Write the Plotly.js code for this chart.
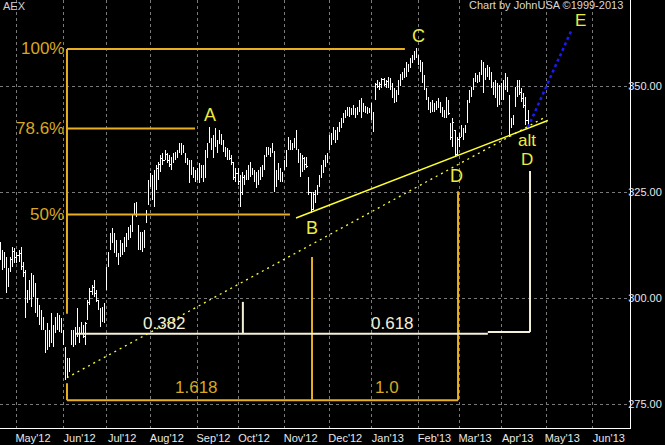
<!DOCTYPE html>
<html><head><meta charset="utf-8">
<script src="https://cdn.plot.ly/plotly-3.0.1.min.js"></script>
<style>html,body{margin:0;padding:0;background:#000;}#chart{width:665px;height:445px;}
#chart .ohlc path{shape-rendering:crispEdges;}</style>
</head><body><div id="chart"></div>
<script>
// ---- data (AEX daily bars) ----
const firstDate = '2012-04-19';
const openP = [
312.5,310.0,308.0,309.5,303.0,306.5,309.0,311.0,
309.5,310.0,310.5,307.5,306.0,300.0,301.5,303.0,301.0,302.0,
298.0,296.5,295.0,294.0,292.0,288.5,292.0,290.0,293.5,291.8,
294.5,293.5,294.5,292.0,288.3,282.0,285.0,289.5,291.5,290.0,
292.0,291.5,292.5,293.0,291.0,295.0,299.0,301.5,302.5,301.0,
299.5,297.5,294.5,297.0,302.0,307.5,311.5,315.0,314.0,311.5,
310.0,310.0,313.0,311.0,314.0,315.0,316.5,316.0,320.0,322.0,
317.0,312.0,315.0,312.0,318.0,322.0,327.5,328.5,325.0,329.5,
330.5,331.5,333.0,332.5,334.0,332.5,331.5,333.0,334.0,333.5,
334.5,336.0,334.5,334.0,332.5,331.5,330.0,330.5,329.0,328.0,
330.0,328.5,330.5,328.5,334.5,337.0,337.5,336.0,337.5,336.5,
336.6,338.5,337.0,335.0,334.0,333.5,333.0,332.0,328.5,329.5,
327.5,325.0,328.5,328.0,329.5,330.5,329.5,330.0,328.0,327.0,
329.5,330.0,331.0,333.5,335.0,334.5,335.0,334.5,327.0,329.0,
329.5,328.0,330.5,332.0,335.0,337.0,336.0,336.5,337.0,335.0,
332.5,330.0,333.0,331.5,328.5,325.0,321.0,324.5,325.0,326.5,
328.5,331.0,332.0,333.5,335.0,338.0,337.5,339.5,337.5,340.0,
341.5,342.0,343.5,344.0,343.5,344.5,344.0,344.5,343.5,344.5,
346.5,344.0,345.0,344.5,344.0,344.5,343.0,347.0,350.5,350.0,
350.5,351.5,350.5,351.0,350.0,349.5,348.0,347.0,348.5,351.0,
352.5,353.0,354.0,353.5,355.0,356.5,357.0,358.0,357.0,355.5,
354.0,351.5,349.5,347.0,345.0,344.5,346.0,344.5,346.0,345.5,
344.0,343.5,343.0,346.5,341.0,338.0,339.5,334.0,337.5,338.0,
340.0,339.0,341.5,346.5,348.5,349.5,351.5,352.5,351.5,353.0,
355.5,351.5,353.5,354.5,352.0,350.0,349.0,350.5,346.0,349.5,
347.5,351.0,352.0,347.5,340.5,341.5,345.5,349.0,350.5,348.5,
347.0,345.5,342.0];
const highP = [
313.3,311.4,310.9,309.7,307.1,309.7,312.1,311.9,
310.9,311.4,312.1,308.6,306.7,302.0,304.3,306.0,305.5,303.6,
300.1,298.4,297.2,295.6,292.5,294.2,292.5,296.5,293.7,295.6,
296.5,296.1,295.4,292.5,288.3,285.9,285.9,292.5,292.5,293.2,
297.7,293.2,294.4,293.7,294.4,299.6,302.4,303.1,304.3,302.0,
299.6,297.7,297.9,298.9,307.4,310.9,315.4,316.6,315.4,313.8,
310.7,313.8,313.0,314.5,315.4,316.8,317.3,319.6,322.5,322.7,
317.3,315.6,315.6,316.1,320.8,327.9,329.6,329.1,330.3,331.4,
332.1,333.8,334.3,335.0,334.3,333.8,333.3,334.3,334.5,335.0,
336.6,336.6,336.2,334.3,333.1,332.6,332.6,330.9,330.3,330.7,
331.9,331.4,331.4,335.0,336.6,340.4,337.8,338.5,340.2,337.3,
339.7,338.5,337.3,335.7,335.5,335.0,333.8,332.1,330.7,330.7,
329.1,329.8,329.1,330.3,331.4,332.1,330.7,330.3,329.8,330.3,
330.9,331.4,333.8,335.7,335.7,335.5,336.6,334.5,330.3,331.9,
330.7,329.8,332.6,335.0,338.0,337.3,336.6,337.8,339.7,335.0,
334.3,333.8,333.3,333.3,328.6,325.1,325.1,325.6,326.7,329.1,
331.4,332.6,333.8,334.3,338.5,339.0,340.4,339.7,340.4,341.6,
342.5,343.7,344.4,345.1,345.1,344.9,345.6,344.9,345.1,346.8,
347.2,346.1,345.4,345.1,344.9,346.1,343.9,350.8,351.5,351.0,
352.0,352.0,351.5,352.2,352.0,350.8,349.6,349.1,351.5,352.9,
353.4,354.3,355.7,355.3,356.7,357.4,358.3,359.0,357.4,356.2,
355.7,352.7,349.6,347.5,346.3,346.8,346.1,346.5,347.2,346.3,
345.1,344.4,347.5,346.8,341.3,342.5,339.7,338.0,339.0,340.9,
340.2,340.9,346.8,349.1,349.8,352.0,353.1,352.7,353.4,356.2,
355.7,354.3,355.0,354.6,353.4,351.0,351.5,350.8,350.3,350.8,
351.5,353.1,352.0,347.9,342.5,343.2,349.8,351.5,351.5,349.6,
348.4,347.5,344.4];
const lowP = [
309.0,306.7,307.1,301.3,302.7,306.2,307.4,308.3,
308.3,308.6,306.7,305.0,295.4,298.9,299.6,297.9,300.3,296.5,
295.6,293.7,292.5,292.5,287.1,287.8,288.5,289.5,288.5,291.8,
292.5,292.0,291.8,289.0,280.7,281.2,282.6,289.0,288.5,289.0,
290.9,289.5,291.8,290.6,289.0,294.9,298.4,300.8,300.3,299.1,
297.2,293.2,294.4,294.2,302.0,307.4,311.4,313.0,310.7,309.7,
307.9,309.7,310.2,310.9,312.1,313.8,314.2,315.6,319.6,319.2,
311.4,311.4,310.9,312.1,317.8,322.0,326.2,323.2,321.5,325.6,
327.9,329.8,331.4,332.6,331.9,330.9,330.3,331.9,332.6,333.1,
334.3,333.8,334.3,331.9,331.4,327.2,329.1,328.4,327.4,327.9,
327.2,328.4,327.4,328.4,333.1,336.6,335.0,333.1,335.7,334.3,
336.6,336.2,334.5,333.3,332.6,332.6,331.4,327.9,327.4,326.7,
321.5,324.4,326.7,327.9,327.9,328.6,329.1,327.4,326.0,326.7,
327.9,328.6,330.3,333.3,333.8,333.3,334.3,325.1,326.2,327.9,
327.4,327.4,330.3,330.9,335.0,335.0,335.0,335.5,335.0,331.9,
328.6,329.8,330.3,330.7,324.4,320.1,320.8,322.5,324.4,326.2,
328.4,329.6,330.9,331.9,335.0,336.2,337.3,336.6,337.3,339.2,
340.2,341.3,342.5,343.0,342.8,343.2,343.2,342.5,343.2,343.9,
342.5,343.9,343.7,343.5,343.7,342.0,339.2,346.8,349.6,349.1,
349.6,350.1,349.6,349.6,349.1,347.2,346.1,346.3,347.9,350.1,
351.5,352.0,352.2,353.4,354.3,355.5,356.2,356.7,355.0,353.4,
350.8,349.1,346.8,344.4,343.7,343.9,343.9,344.4,344.9,343.7,
342.8,342.5,342.5,343.2,337.3,335.7,333.3,333.8,335.7,338.0,
337.3,339.0,341.3,346.1,347.5,349.1,351.0,350.8,351.0,352.7,
348.4,351.5,352.2,351.5,349.6,347.9,347.2,345.1,345.6,346.8,
346.8,349.1,348.6,338.0,340.2,340.9,345.1,347.5,347.9,346.3,
344.9,340.9,340.2];
const closeP = [
310.0,308.0,309.5,303.0,306.5,309.0,311.0,309.5,
310.0,310.5,307.5,306.0,300.0,301.5,303.0,301.0,302.0,298.0,
296.5,295.0,294.0,293.0,288.5,292.0,290.0,294.5,290.5,294.5,
293.5,294.5,292.0,289.5,282.0,285.0,285.5,291.5,290.0,292.0,
291.5,292.5,293.0,291.0,294.0,299.0,301.5,302.5,301.0,299.5,
297.5,294.5,297.0,298.5,307.0,310.5,315.0,314.0,311.5,310.0,
309.0,313.0,311.0,314.0,315.0,316.5,315.5,319.5,322.0,320.0,
312.0,315.0,312.0,315.5,320.5,327.5,328.5,325.0,329.5,330.5,
331.5,333.0,332.5,334.5,332.5,331.5,333.0,334.0,333.5,334.5,
336.0,334.5,335.5,332.5,331.5,330.0,330.5,329.0,328.0,330.0,
328.5,330.5,328.5,334.5,336.0,338.0,336.0,337.5,336.5,336.0,
338.5,337.0,335.0,334.0,333.5,333.0,332.0,328.5,329.5,327.5,
323.0,328.5,328.0,329.5,330.5,329.5,330.0,328.0,327.0,329.5,
330.0,331.0,333.5,335.0,334.5,335.0,335.5,327.0,329.0,329.5,
328.0,329.5,332.0,334.5,337.0,336.0,336.5,337.0,335.5,332.5,
330.0,333.0,331.5,331.0,325.0,321.0,324.5,325.0,326.5,328.5,
331.0,332.0,333.5,332.5,338.0,337.0,340.0,337.5,340.0,341.5,
342.0,343.5,344.0,343.5,344.5,344.0,345.5,343.0,344.5,346.5,
343.5,345.5,344.5,344.0,344.5,343.0,341.0,350.5,350.0,350.5,
351.5,350.5,351.0,350.0,349.5,348.0,347.0,348.5,351.0,352.5,
353.0,354.0,353.5,355.0,356.5,357.0,358.0,357.0,355.5,354.0,
351.5,349.5,347.0,345.0,344.5,346.0,344.5,346.0,345.5,344.0,
343.5,343.0,347.0,343.5,338.0,341.5,334.0,337.5,336.5,340.5,
338.0,340.5,346.5,348.5,348.0,351.5,352.5,351.5,353.0,355.5,
350.0,353.5,354.5,352.0,350.0,349.0,350.5,346.0,349.5,347.5,
351.0,352.5,349.0,340.0,341.5,342.5,349.0,350.5,348.5,347.0,
345.5,342.0,341.0];

// tick labels
const monthTicks = ['2012-05-01','2012-06-01','2012-07-02','2012-08-01','2012-09-03','2012-10-01','2012-11-01',
  '2012-12-03','2013-01-01','2013-02-01','2013-03-01','2013-04-01','2013-05-01','2013-06-03'];
const monthLabels = ["May'12","Jun'12","Jul'12","Aug'12","Sep'12","Oct'12","Nov'12",
  "Dec'12","Jan'13","Feb'13","Mar'13","Apr'13","May'13","Jun'13"];
const priceTicks = [275, 300, 325, 350];

// Fibonacci / wave levels (prices)
const lvl100 = 358.8, lvl786 = 340.0, lvl50 = 319.7;
const bracketY = 275.9, ratioY = 291.6;

// ---- build the weekday calendar ----
function weekdays(start, count){
  const out=[]; const d=new Date(start+'T00:00:00Z');
  while(out.length<count){const w=d.getUTCDay(); if(w!==0&&w!==6) out.push(d.toISOString().slice(0,10)); d.setUTCDate(d.getUTCDate()+1);}
  return out;
}
const calendar = weekdays(firstDate, 330);
const dates = calendar.slice(0, highP.length);
function at(i){ // position at fractional bar index
  const k=Math.floor(i), f=i-k;
  const ms=Date.parse(calendar[k]+'T00:00:00Z')+f*86400000;
  return new Date(ms).toISOString().replace('T',' ').slice(0,19);
}

const ORANGE='#e8b020', CREAM='#f4f0d8', YEL='#ffff30', TXTY='#ecec40', FIBTXT='#d8a820';
const FONT='Liberation Sans, Arial, sans-serif';

const trace = {
  type:'ohlc', x:dates, open:openP, high:highP, low:lowP, close:closeP,
  increasing:{line:{color:'#ffffff', width:1}}, decreasing:{line:{color:'#ffffff', width:1}},
  tickwidth:0.3, hoverinfo:'skip', showlegend:false
};

function seg(x0,y0,x1,y1,color,width,dash){
  return {type:'line', xref:'x', yref:'y', x0:x0, y0:y0, x1:x1, y1:y1,
    line:{color:color, width:width, dash:dash||'solid'}, layer:'above'};
}
const shapes = [
  seg(at(32.65),lvl100,at(199.3),lvl100,ORANGE,2),
  seg(at(32.65),lvl786,at(95.8),lvl786,ORANGE,2),
  seg(at(32.65),lvl50,at(142.6),lvl50,ORANGE,2),
  seg(at(32.65),lvl100,at(32.65),296.3,ORANGE,2),
  seg(at(32.65),279.9,at(32.65),bracketY,ORANGE,2),
  seg(at(32.65),bracketY,at(225.5),bracketY,ORANGE,2),
  seg(at(153.5),309.7,at(153.5),bracketY,ORANGE,2),
  seg(at(225.5),325.2,at(225.5),bracketY,ORANGE,2),
  seg(at(37.1),ratioY,at(240.2),ratioY,CREAM,2),
  seg(at(240.2),292.0,at(261.0),292.0,CREAM,2),
  seg(at(261.0),292.0,at(261.0),330.0,CREAM,2),
  seg(at(119.4),ratioY,at(119.4),299.1,CREAM,2),
  seg(at(145.6),318.9,at(269.8),341.9,YEL,1.5),
  seg(at(32.65),281.2,at(268.8),342.8,YEL,1.3,'2px,4px'),
  seg(at(260),340.3,at(281.7),363.5,'#1a1aff',2.5,'dot')
];

function txt(x,y,t,color,size,xanchor){
  return {xref:'x', yref:'y', x:x, y:y, text:t, showarrow:false, xanchor:xanchor||'center', yanchor:'middle',
    font:{family:FONT, size:size, color:color}};
}
const annotations = [
  txt(at(32.0),lvl100,'100%',FIBTXT,17,'right'),
  txt(at(32.0),lvl786,'78.6%',FIBTXT,17,'right'),
  txt(at(32.0),lvl50,'50%',FIBTXT,17,'right'),
  txt(at(96.5),278.8,'1.618',FIBTXT,17),
  txt(at(190.4),278.8,'1.0',FIBTXT,17),
  txt(at(80.5),293.9,'0.382',CREAM,17),
  txt(at(193.2),293.9,'0.618',CREAM,17),
  txt(at(103.2),343.2,'A',TXTY,18),
  txt(at(153.3),316.5,'B',TXTY,18),
  txt(at(205.9),361.9,'C',TXTY,18),
  txt(at(224.8),328.7,'D',TXTY,18),
  txt(at(259.3),337.2,'alt',TXTY,17),
  txt(at(259.3),332.8,'D',TXTY,17),
  txt(at(286.1),365.6,'E',TXTY,17),
  {xref:'paper', yref:'paper', x:0.002, y:0.985, text:'AEX', showarrow:false, xanchor:'left', yanchor:'middle',
    font:{family:FONT, size:11, color:'#d0d0d0'}},
  {xref:'paper', yref:'paper', x:0.992, y:0.988, text:'Chart by JohnUSA ©1999-2013', showarrow:false, xanchor:'right', yanchor:'middle',
    font:{family:FONT, size:11, color:'#d8d8d8'}}
];

const layout = {
  width:665, height:445, margin:{l:0, r:35, t:0, b:17},
  paper_bgcolor:'#000000', plot_bgcolor:'#000000', showlegend:false,
  xaxis:{type:'date', range:['2012-04-18 15:00', at(310.3)],
    rangebreaks:[{bounds:['sat','mon']}],
    tickvals:monthTicks, ticktext:monthLabels, ticks:'', ticklen:0, ticklabelshift:16,
    tickfont:{family:FONT, size:11, color:'#e8e8e8'},
    showgrid:true, gridcolor:'#7a7a7a', griddash:'dot', gridwidth:1,
    showline:true, linecolor:'#ffffff', linewidth:1, zeroline:false,
    rangeslider:{visible:false}, fixedrange:true},
  yaxis:{side:'right', range:[269.34, 370.35], tickvals:priceTicks, tickformat:'.2f', ticks:'', ticklen:0,
    ticklabelstandoff:-5,
    tickfont:{family:FONT, size:11, color:'#e8e8e8'},
    showgrid:true, gridcolor:'#7a7a7a', griddash:'dot', gridwidth:1,
    showline:true, linecolor:'#ffffff', linewidth:1, zeroline:false, fixedrange:true},
  shapes:shapes, annotations:annotations
};

Plotly.newPlot('chart', [trace], layout, {displayModeBar:false, staticPlot:true});
</script>
</body></html>
